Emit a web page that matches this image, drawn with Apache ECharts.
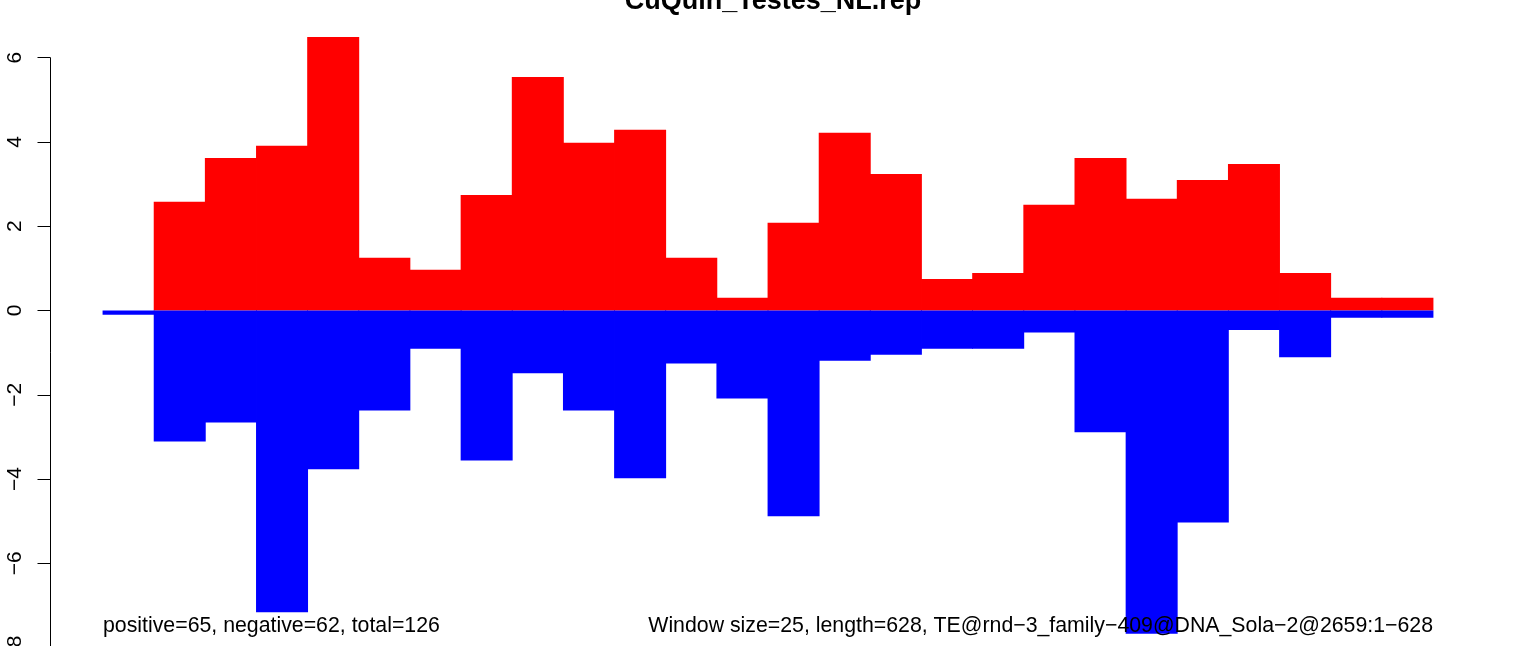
<!DOCTYPE html>
<html>
<head>
<meta charset="utf-8">
<script src="https://cdn.jsdelivr.net/npm/echarts@6/dist/echarts.min.js"></script>
<style>
  html, body { margin: 0; padding: 0; background: #ffffff; }
  #chart { width: 1513px; height: 646px; }
</style>
</head>
<body>
<div id="chart"></div>
<script>
// Sliding windows (window size 25 over length 628)
const windows = ["1","2","3","4","5","6","7","8","9","10","11","12","13","14","15","16","17","18","19","20","21","22","23","24","25","26"];
// Positive-strand values (red)
const positiveValues = [0, 2.58, 3.62, 3.91, 6.49, 1.25, 0.97, 2.74, 5.54, 3.98, 4.29, 1.25, 0.30, 2.08, 4.22, 3.24, 0.75, 0.89, 2.51, 3.62, 2.65, 3.10, 3.48, 0.89, 0.30, 0.30];
// Negative-strand values (blue)
const negativeValues = [-0.10, -3.11, -2.66, -7.16, -3.77, -2.37, -0.91, -3.56, -1.49, -2.37, -3.98, -1.26, -2.09, -4.88, -1.19, -1.05, -0.91, -0.91, -0.52, -2.89, -7.67, -5.03, -0.46, -1.11, -0.17, -0.17];
// Y axis ticks
const yTicks = [-8, -6, -4, -2, 0, 2, 4, 6];
const titleText = "CuQuin_Testes_NL.rep";
const leftNote = "positive=65, negative=62, total=126";
const rightNote = "Window size=25, length=628, TE@rnd\u22123_family\u2212409@DNA_Sola\u22122@2659:1\u2212628";

const FONT = "'Liberation Sans', Arial, Helvetica, sans-serif";
const chart = echarts.init(document.getElementById('chart'), null, { renderer: 'canvas' });

const option = {
  backgroundColor: '#ffffff',
  animation: false,
  title: {
    text: titleText,
    left: 768,
    textAlign: 'center',
    top: -17,
    textStyle: { fontFamily: FONT, fontWeight: 'bold', fontSize: 27, color: '#000000', lineHeight: 27 }
  },
  grid: { left: 103, width: 1330, top: 57.7, height: 589.9, containLabel: false, outerBoundsMode: 'none' },
  xAxis: {
    type: 'category',
    data: windows,
    show: false
  },
  yAxis: {
    type: 'value',
    min: yTicks[0],
    max: yTicks[yTicks.length - 1],
    interval: 2,
    offset: 53,
    splitLine: { show: false },
    axisLine: { show: true, lineStyle: { color: '#000000', width: 1 } },
    axisTick: { show: true, length: 12.5, lineStyle: { color: '#000000', width: 1 } },
    axisLabel: {
      rotate: 90,
      margin: 24,
      color: '#000000',
      fontFamily: FONT,
      fontSize: 21,
      formatter: function (v) { return String(v).replace('-', '\u2212'); }
    }
  },
  series: [
    {
      name: 'positive',
      type: 'bar',
      stack: 'strand',
      data: positiveValues,
      barWidth: 52,
      barCategoryGap: 0,
      clip: false,
      itemStyle: { color: '#ff0000' }
    },
    {
      name: 'negative',
      type: 'bar',
      stack: 'strand',
      data: negativeValues,
      barWidth: 52,
      barCategoryGap: 0,
      clip: false,
      itemStyle: { color: '#0000ff' }
    }
  ],
  graphic: [
    {
      type: 'text', z: 100, left: 103, top: 616,
      style: { text: leftNote, font: "21.3px " + FONT, fill: '#000000' }
    },
    {
      type: 'text', z: 100, right: 1513 - 1433, top: 616,
      style: { text: rightNote, font: "21.3px " + FONT, fill: '#000000' }
    }
  ]
};
chart.setOption(option);
</script>
</body>
</html>
